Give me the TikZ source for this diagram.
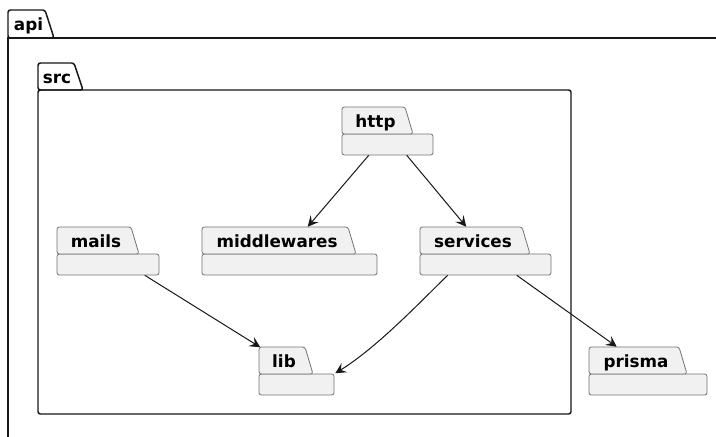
\documentclass[tikz,border=0pt]{standalone}
\usepackage{fontspec}
\setmainfont{DejaVu Sans}
\usetikzlibrary{arrows.meta,calc,fit}
\definecolor{pkgfill}{HTML}{F1F1F1}
\definecolor{pkgline}{HTML}{181818}
\newcommand\leafpkg[6]{%
  \path[leaf] (#3,#4+27) rectangle (#6,#4+48);
  \path[leaf] (#3,#4+27) -- (#3,#4) -- (#5-8,#4) -- (#5,#4+27) -- cycle;
  \node[lbl] (#1-l) at ({(#3+#5-4)/2},#4+20) {#2};
  \node[area, fit={(#3,#4) (#6,#4+48)}] (#1) {};
}
\begin{document}
\begin{tikzpicture}[x=0.75pt,y=-0.75pt,
  leaf/.style={draw=black!55, line width=0.6pt, fill=pkgfill, rounded corners=1.8pt},
  cont/.style={draw=pkgline, line width=1.1pt, rounded corners=1.8pt},
  lbl/.style={font=\fontsize{12.6}{15}\selectfont\bfseries, inner sep=0pt, anchor=base},
  area/.style={inner sep=0pt, draw=none},
  dep/.style={draw=pkgline, line width=0.75pt, -{Stealth[length=8pt,width=8pt,inset=3.2pt]}}]
\useasboundingbox (0,0) rectangle (716,436);
\fill[white] (0,0) rectangle (716,436);
\clip (0,0) rectangle (716,436);
% api container
\path[cont] (8,38) -- (8,10) -- (45,10) -- (54,38) -- cycle;
\draw[draw=pkgline, line width=1.1pt] (8,480) -- (8,38) -- (760,38);
\node[lbl] (api) at (28.5,30) {api};
% src container
\path[cont] (38,90) -- (38,63) -- (74,63) -- (83,90) -- cycle;
\path[cont] (38,90) rectangle (571,414);
\node[lbl] (src) at (57,83) {src};
% leaf packages
\leafpkg{http}{http}{342}{107}{413}{433}
\leafpkg{middlewares}{middlewares}{202}{227}{356}{377}
\leafpkg{services}{services}{420}{227}{530}{551}
\leafpkg{mails}{mails}{57}{227}{139}{159}
\leafpkg{lib}{lib}{259}{347}{313}{334}
\leafpkg{prisma}{prisma}{589}{347}{687}{707}
% dependencies
\draw[dep] ($(http.south west)+(27,0)$) -- ($(middlewares.north west)+(106,0)$);
\draw[dep] ($(http.south west)+(65,0)$) -- ($(services.north west)+(46.5,0)$);
\draw[dep] ($(mails.south west)+(88,0)$) -- ($(lib.north west)+(1.5,0.5)$);
\draw[dep] ($(services.south west)+(28,0)$) .. controls (425,297) and (378,347) .. ($(lib.north east)+(1,26.5)$);
\draw[dep] ($(services.south west)+(97,0)$) -- ($(prisma.north west)+(28,0)$);
\end{tikzpicture}
\end{document}
